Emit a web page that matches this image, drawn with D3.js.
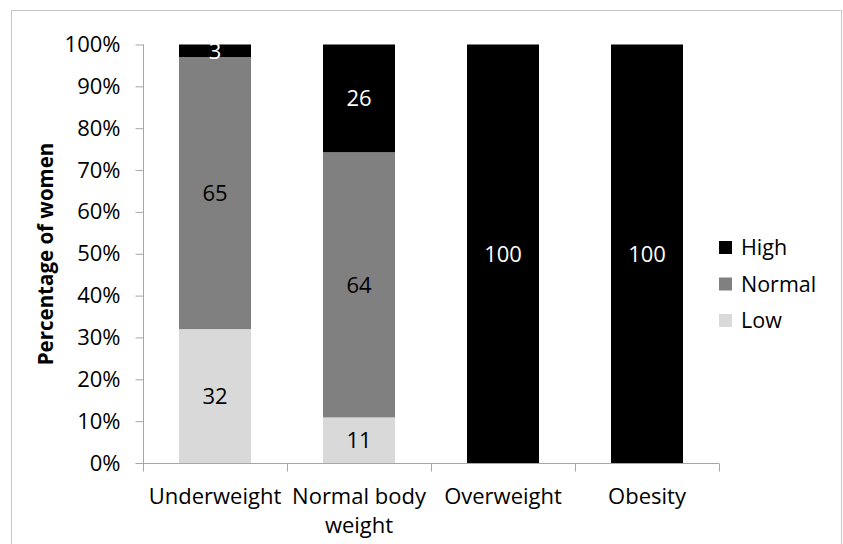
<!DOCTYPE html>
<html>
<head>
<meta charset="utf-8">
<script src="https://cdn.jsdelivr.net/npm/d3@7"></script>
<style>
  html, body { margin: 0; padding: 0; background: #fff; }
  svg { display: block; }
  text { font-family: "Open Sans", sans-serif; }
</style>
</head>
<body>
<svg id="chart" width="843" height="544"></svg>
<script>
const categories = ["Underweight", "Normal body weight", "Overweight", "Obesity"];
const categoryLines = [["Underweight"], ["Normal body", "weight"], ["Overweight"], ["Obesity"]];
const seriesNames = ["Low", "Normal", "High"];
const lowValues = [32, 11, 0, 0];
const normalValues = [65, 64, 0, 0];
const highValues = [3, 26, 100, 100];
const yTicks = [0, 0.1, 0.2, 0.3, 0.4, 0.5, 0.6, 0.7, 0.8, 0.9, 1.0];
const colors = { Low: "#d9d9d9", Normal: "#808080", High: "#000000" };
const labelColors = { Low: "#000", Normal: "#000", High: "#fff" };

const rows = categories.map((c, i) => ({ cat: c, Low: lowValues[i], Normal: normalValues[i], High: highValues[i] }));

const svg = d3.select("#chart");
const FS = 22;

// outer frame
svg.append("rect").attr("x", 11.5).attr("y", 10.5).attr("width", 830).attr("height", 560)
  .attr("fill", "none").attr("stroke", "#c8c8c8").attr("stroke-width", 1);

const pLeft = 143, pRight = 719, pTop = 44.5, pBottom = 463;
const x = d3.scaleBand().domain(categories).range([pLeft, pRight]).paddingInner(0.5).paddingOuter(0.25);
const y = d3.scaleLinear().domain([0, 1]).range([pBottom, pTop]);

const stack = d3.stack().keys(seriesNames).offset(d3.stackOffsetExpand);
const stacked = stack(rows);

const g = svg.append("g");
stacked.forEach(layer => {
  const key = layer.key;
  g.selectAll(null).data(layer).enter().append("rect")
    .attr("x", d => x(d.data.cat))
    .attr("width", x.bandwidth())
    .attr("y", d => y(d[1]))
    .attr("height", d => y(d[0]) - y(d[1]))
    .attr("fill", colors[key]);
});

// data labels
stacked.forEach(layer => {
  const key = layer.key;
  g.selectAll(null).data(layer.filter(d => d.data[key] > 0)).enter().append("text")
    .attr("x", d => x(d.data.cat) + x.bandwidth() / 2)
    .attr("y", d => (y(d[0]) + y(d[1])) / 2)
    .attr("dy", "0.36em")
    .attr("text-anchor", "middle")
    .attr("font-size", FS)
    .attr("fill", labelColors[key])
    .text(d => d.data[key]);
});

// y axis
const yAxis = d3.axisLeft(y).tickValues(yTicks).tickFormat(d3.format(".0%")).tickSize(8).tickPadding(15);
const ya = svg.append("g").attr("transform", `translate(${pLeft + 0.5},0)`).call(yAxis);
ya.select(".domain").attr("stroke", "#a6a6a6").attr("d", `M0,${pTop}V${pBottom}`);
ya.selectAll(".tick line").attr("stroke", "#a6a6a6");
ya.selectAll(".tick text").attr("font-size", FS).attr("fill", "#000").attr("font-family", "Open Sans, sans-serif");

// x axis with ticks at boundaries
const xa = svg.append("g").attr("transform", `translate(0,${pBottom + 0.5})`);
xa.append("path").attr("d", `M${pLeft},0H${pRight}`).attr("stroke", "#a6a6a6").attr("fill", "none");
const step = x.step();
const boundaries = d3.range(categories.length + 1).map(i => pLeft + i * step);
xa.selectAll("line.tk").data(boundaries).enter().append("line")
  .attr("x1", d => Math.round(d) + 0.5).attr("x2", d => Math.round(d) + 0.5)
  .attr("y1", 0).attr("y2", 8).attr("stroke", "#a6a6a6");

categories.forEach((c, i) => {
  const t = svg.append("text")
    .attr("x", x(c) + x.bandwidth() / 2)
    .attr("y", 504)
    .attr("text-anchor", "middle")
    .attr("font-size", FS)
    .attr("fill", "#000");
  categoryLines[i].forEach((ln, j) => {
    t.append("tspan").attr("x", x(c) + x.bandwidth() / 2).attr("dy", j === 0 ? 0 : 29).text(ln);
  });
});

// y title
svg.append("text")
  .attr("transform", "translate(53,254) rotate(-90)")
  .attr("text-anchor", "middle")
  .attr("font-size", 20.5)
  .attr("font-weight", "bold")
  .attr("fill", "#000")
  .text("Percentage of women");

// legend
const legendOrder = ["High", "Normal", "Low"];
const lg = svg.append("g");
legendOrder.forEach((k, i) => {
  const yy = 241 + i * 36.5;
  lg.append("rect").attr("x", 719).attr("y", yy).attr("width", 13).attr("height", 13).attr("fill", colors[k]);
  lg.append("text").attr("x", 741).attr("y", yy + 14).attr("font-size", 21.5).attr("fill", "#000").text(k);
});
</script>
</body>
</html>
